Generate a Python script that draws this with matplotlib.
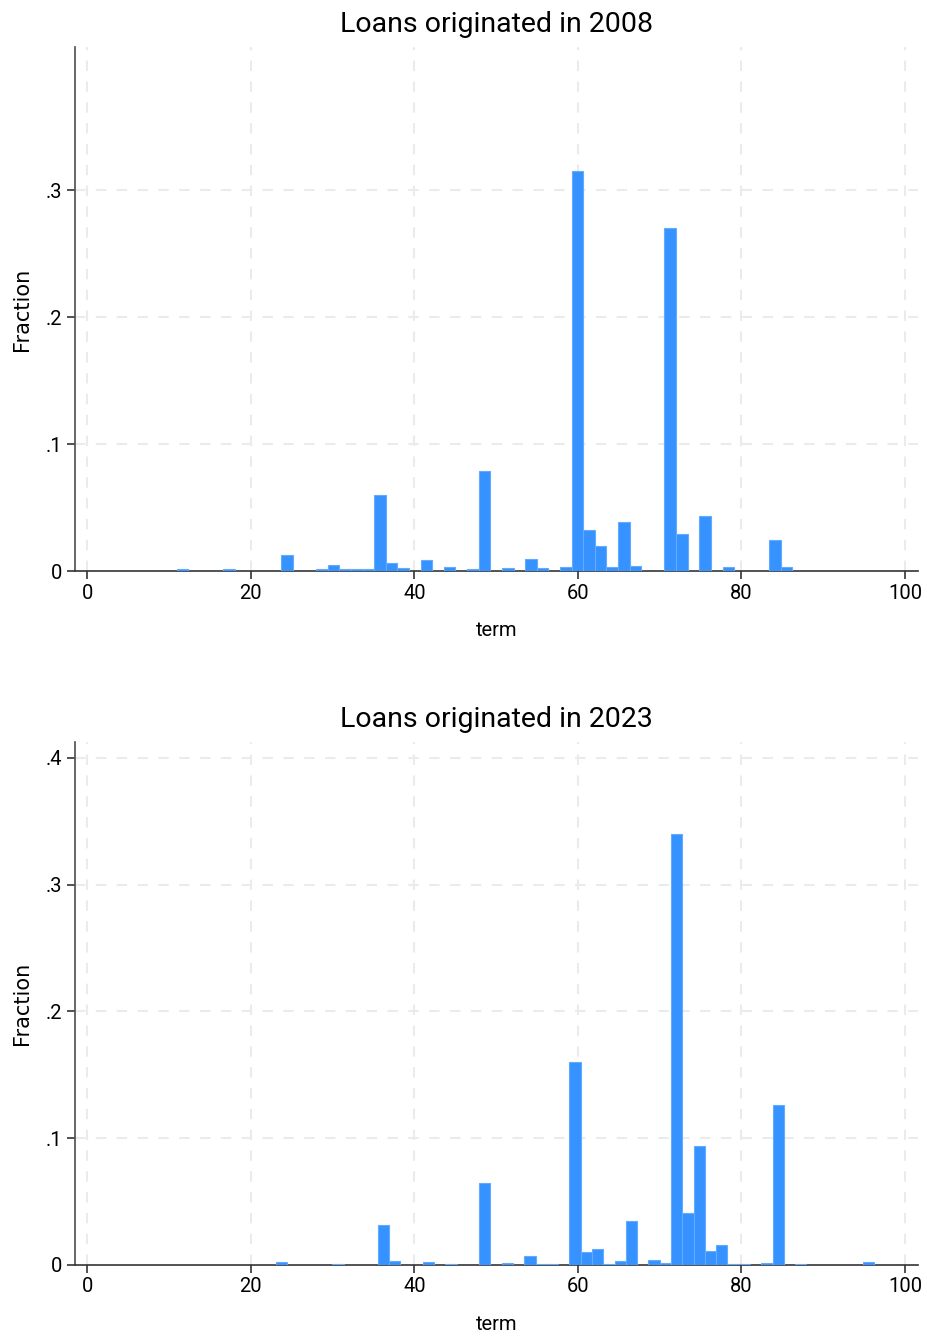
import numpy as np
import matplotlib
matplotlib.use("Agg")
import matplotlib.pyplot as plt

# histogram of loan terms (months), fraction of loans per bin
TERM_MIN, TERM_MAX = 1, 99
NBINS_2008 = 69
NBINS_2023 = 71

# fraction per bin, 2008 originations (69 bins)
frac_2008 = [
    0.0002, 0.0002, 0.0002, 0.0002, 0.0002, 0.0002, 0.0002, 0.0013, 0.0002, 0.0002,
    0.0002, 0.0013, 0.0002, 0.0002, 0.0002, 0.0002, 0.0124, 0.0002, 0.0002, 0.0013,
    0.0045, 0.0013, 0.0013, 0.0013, 0.0596, 0.0063, 0.0021, 0.0000, 0.0084, 0.0000,
    0.0029, 0.0000, 0.0016, 0.0785, 0.0000, 0.0021, 0.0000, 0.0092, 0.0021, 0.0000,
    0.0029, 0.3153, 0.0320, 0.0194, 0.0029, 0.0383, 0.0037, 0.0000, 0.0000, 0.2698,
    0.0294, 0.0000, 0.0430, 0.0000, 0.0029, 0.0003, 0.0003, 0.0003, 0.0242, 0.0029,
    0.0003, 0.0003, 0.0003, 0.0003, 0.0003, 0.0003, 0.0003, 0.0003, 0.0003,
]

# fraction per bin, 2023 originations (71 bins)
frac_2023 = [
    0.0002, 0.0002, 0.0002, 0.0002, 0.0002, 0.0002, 0.0002, 0.0000, 0.0002, 0.0002,
    0.0002, 0.0002, 0.0002, 0.0000, 0.0000, 0.0000, 0.0026, 0.0000, 0.0000, 0.0000,
    0.0000, 0.0010, 0.0000, 0.0000, 0.0000, 0.0318, 0.0034, 0.0000, 0.0000, 0.0026,
    0.0000, 0.0010, 0.0000, 0.0000, 0.0646, 0.0000, 0.0016, 0.0000, 0.0071, 0.0010,
    0.0010, 0.0000, 0.1598, 0.0102, 0.0126, 0.0008, 0.0029, 0.0349, 0.0000, 0.0039,
    0.0016, 0.3404, 0.0409, 0.0937, 0.0113, 0.0157, 0.0008, 0.0008, 0.0000, 0.0016,
    0.1260, 0.0000, 0.0008, 0.0002, 0.0002, 0.0002, 0.0002, 0.0002, 0.0026, 0.0002,
    0.0002,
]

panels = [
    ("Loans originated in 2008", frac_2008, NBINS_2008, [0, 0.1, 0.2, 0.3], ["0", ".1", ".2", ".3"]),
    ("Loans originated in 2023", frac_2023, NBINS_2023, [0, 0.1, 0.2, 0.3, 0.4], ["0", ".1", ".2", ".3", ".4"]),
]
xticks = [0, 20, 40, 60, 80, 100]

FONT = ["Roboto", "DejaVu Sans"]
BAR = "#3592ff"
EDGE = "#62abff"
GRID = "#ebebeb"

fig = plt.figure(figsize=(9.28, 13.37), dpi=100)
W, H = 928, 1337
boxes = [(75, 47, 918, 571), (75, 742, 918, 1265)]

for (title, frac, nb, yt, ylab), (l, t, r, b) in zip(panels, boxes):
    ax = fig.add_axes([l / W, 1 - b / H, (r - l) / W, (b - t) / H])
    edges = np.linspace(TERM_MIN, TERM_MAX, nb + 1)
    ax.bar(edges[:-1], frac, width=np.diff(edges), align="edge",
           color=BAR, edgecolor=EDGE, linewidth=0.8, zorder=3)
    ax.set_xlim(-1.5, 101.6)
    ax.set_ylim(0, 0.4126)
    ax.set_xticks(xticks)
    ax.set_xticklabels([str(v) for v in xticks], family=FONT, fontsize=14.5)
    ax.set_yticks(yt)
    ax.set_yticklabels(ylab, family=FONT, fontsize=14.5)
    for v in xticks:
        ax.axvline(v, color=GRID, lw=1.5, ls=(0, (5, 5)), zorder=1)
    for v in yt[1:]:
        ax.axhline(v, color=GRID, lw=1.5, ls=(0, (5, 5)), zorder=1)
    for s in ("top", "right"):
        ax.spines[s].set_visible(False)
    ax.spines["left"].set_color("#4d4d4d")
    ax.spines["bottom"].set_color("#333333")
    ax.spines["left"].set_linewidth(1.2)
    ax.spines["bottom"].set_linewidth(1.2)
    ax.tick_params(axis="both", length=6, width=1.2, color="#333333", pad=3)
    ax.set_title(title, family=FONT, fontsize=20.5, pad=11)
    ax.set_xlabel("term", family=FONT, fontsize=14.5, labelpad=13)
    ax.set_ylabel("Fraction", family="DejaVu Sans", fontsize=15, labelpad=10)

fig.savefig("out.png", dpi=100, facecolor="white")
